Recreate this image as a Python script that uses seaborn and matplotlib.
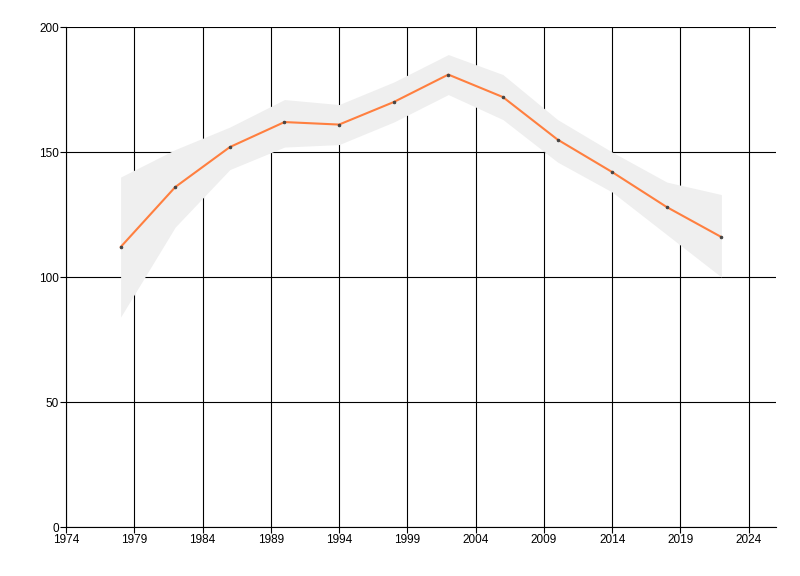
import matplotlib
matplotlib.use('Agg')
import matplotlib.pyplot as plt
import seaborn as sns
import pandas as pd

# 数据
years = [1978, 1982, 1986, 1990, 1994, 1998, 2002, 2006, 2010, 2014, 2018, 2022]
values = [112, 136, 152, 162, 161, 170, 181, 172, 155, 142, 128, 116]
band_upper = [140, 151, 160, 171, 169, 178, 189, 181, 163, 150, 138, 133]
band_lower = [84, 120, 143, 152, 153, 162, 173, 163, 146, 134, 117, 100]
x_ticks = [1974, 1979, 1984, 1989, 1994, 1999, 2004, 2009, 2014, 2019, 2024]
y_ticks = [0, 50, 100, 150, 200]

df = pd.DataFrame({'year': years, 'value': values})

sns.set_style('white')
plt.rcParams['font.family'] = ['Liberation Sans', 'DejaVu Sans']

fig = plt.figure(figsize=(8, 5.76), dpi=100)
ax = fig.add_axes([0.0825, 0.085, 0.8875, 0.868])

# 置信带
ax.fill_between(years, band_lower, band_upper, color='#efefef', lw=0, zorder=2)

sns.lineplot(data=df, x='year', y='value', ax=ax, color='#ff7f3f', lw=1.5,
             marker='o', markersize=1.8, markerfacecolor='#444444',
             markeredgecolor='#444444', zorder=3)

ax.set_xlim(1974, 2026)
ax.set_ylim(0, 200)
ax.set_xticks(x_ticks)
ax.set_yticks(y_ticks)
ax.grid(True, color='black', lw=0.8, zorder=1)
ax.set_axisbelow(True)

for side in ['top', 'right']:
    ax.spines[side].set_visible(False)
for side in ['left', 'bottom']:
    ax.spines[side].set_color('black')
    ax.spines[side].set_linewidth(0.8)

ax.tick_params(axis='both', direction='out', length=4, width=0.8, color='black',
               labelsize=8.5, labelcolor='black', pad=1, left=True, bottom=True)
ax.set_xlabel('')
ax.set_ylabel('')

fig.savefig('out.png', dpi=100)
